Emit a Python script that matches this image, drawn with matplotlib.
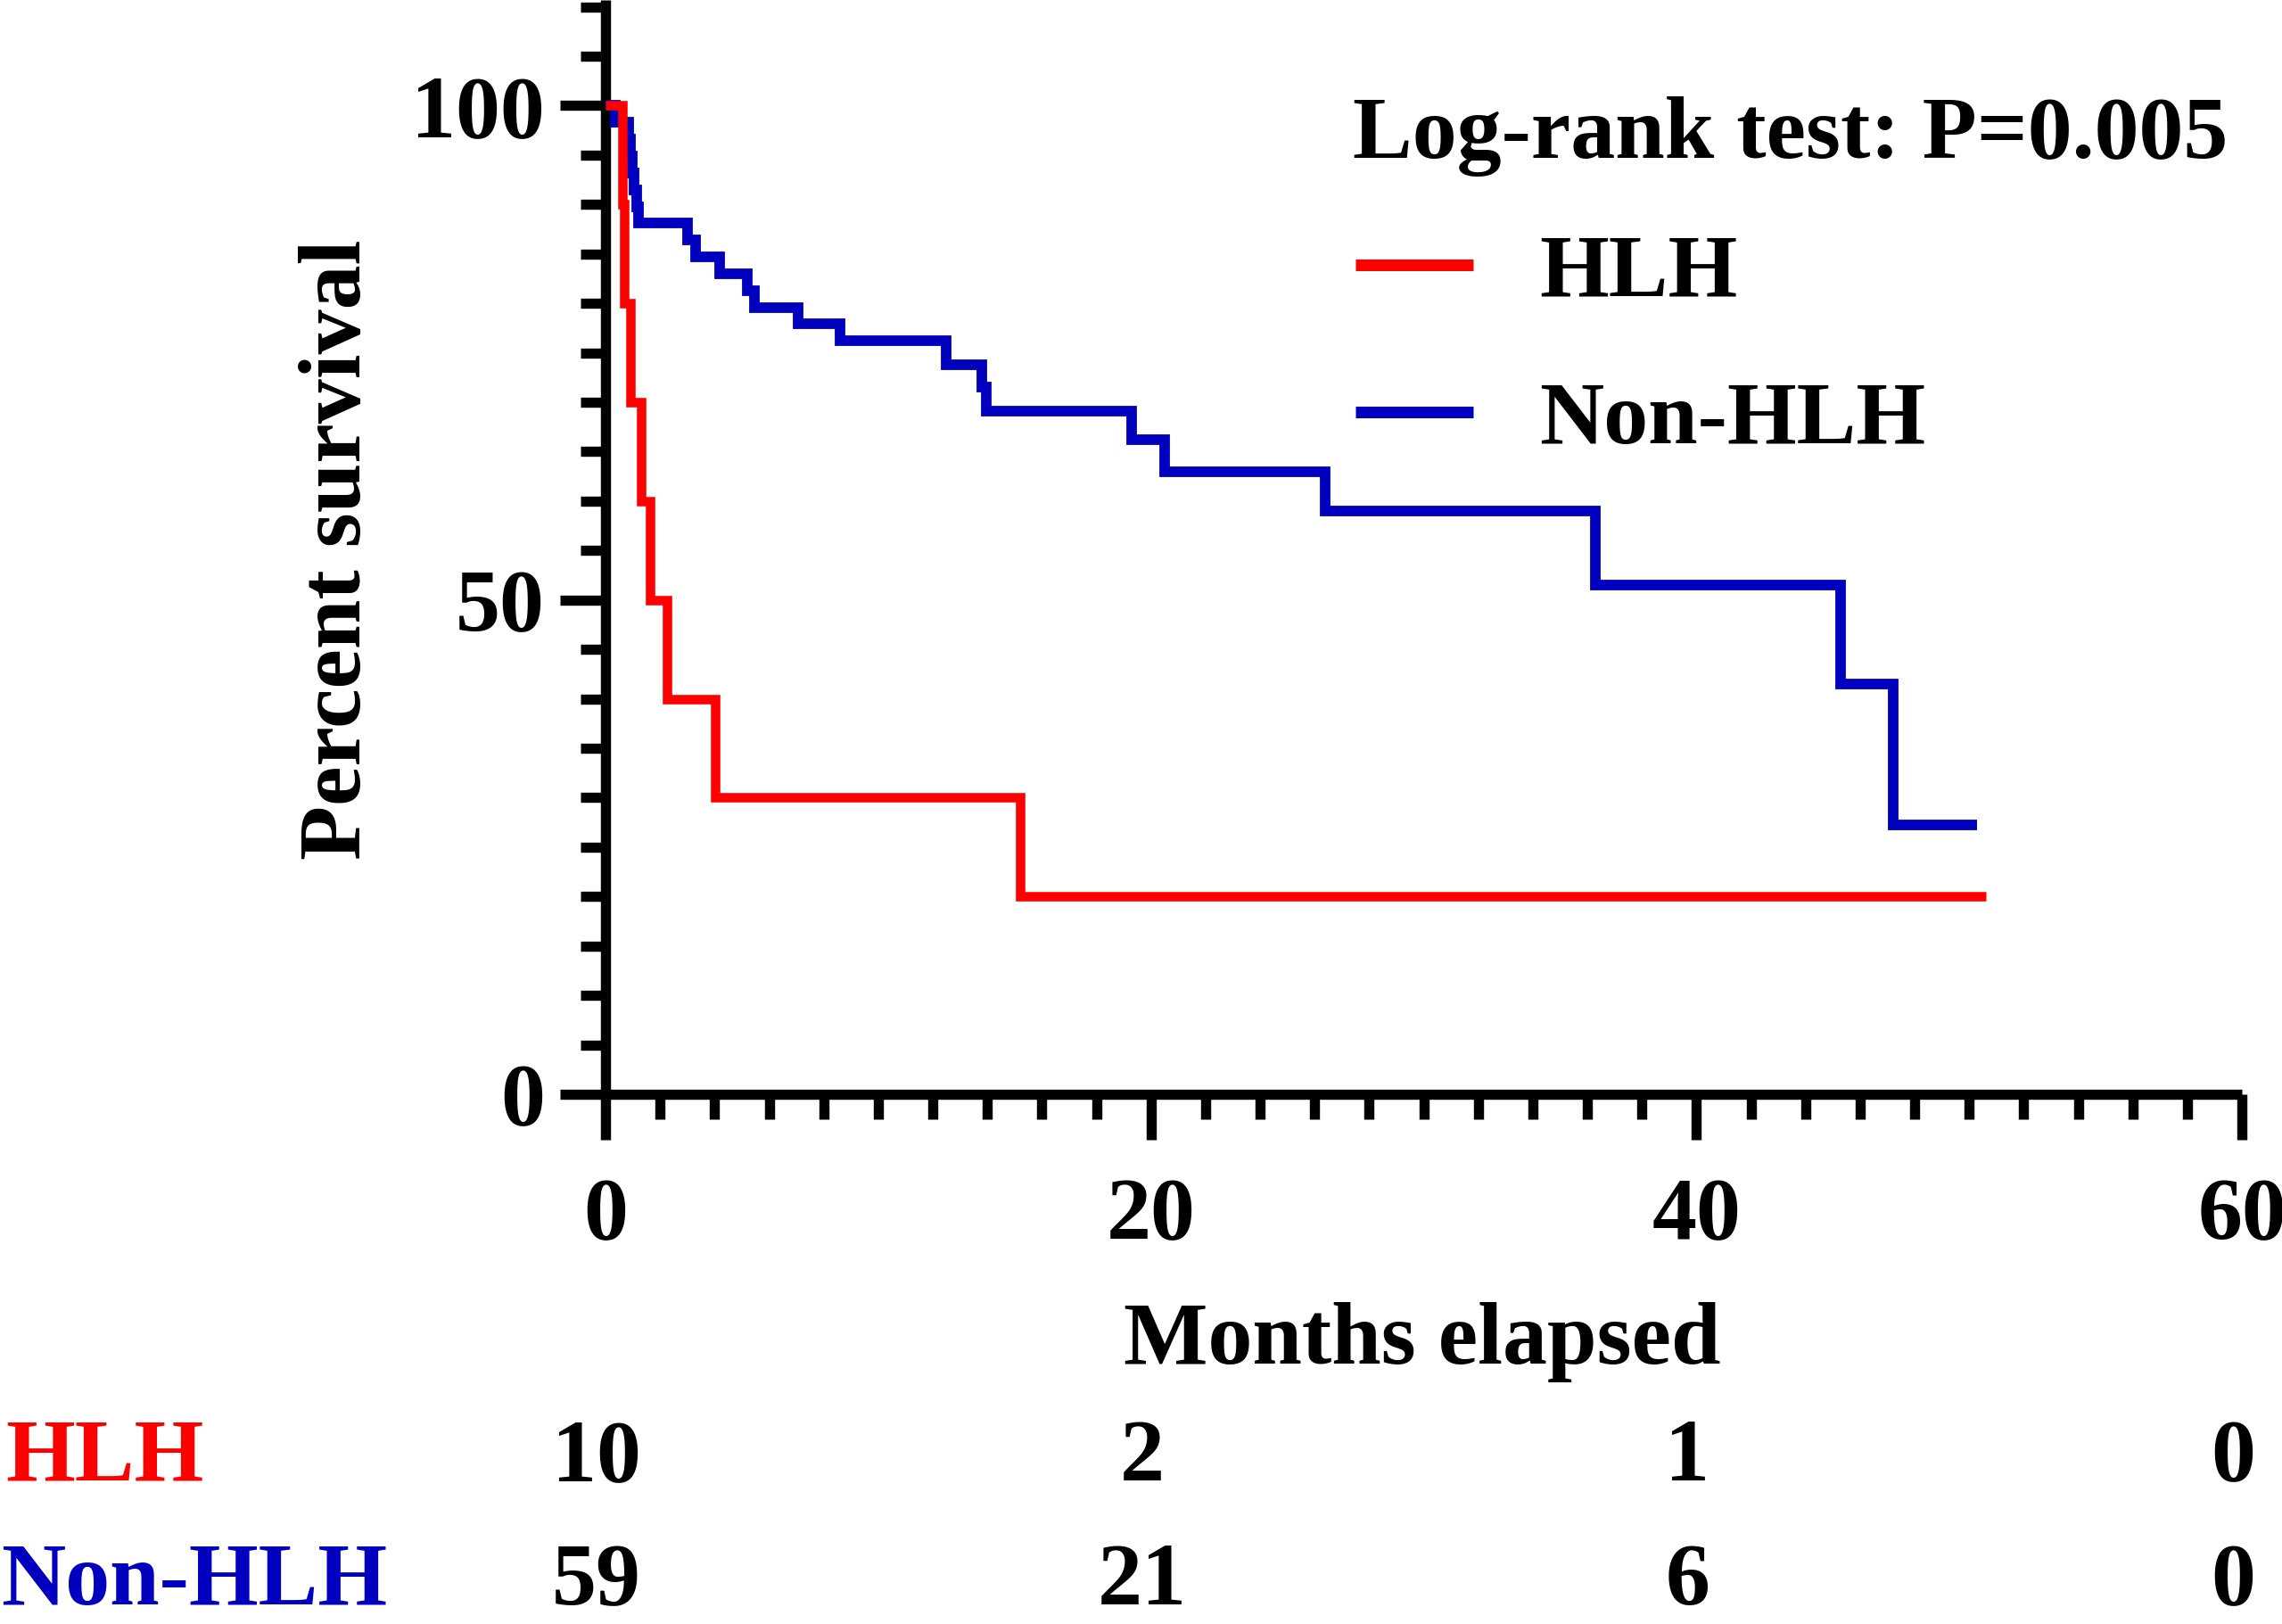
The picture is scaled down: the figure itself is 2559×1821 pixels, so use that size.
import matplotlib
matplotlib.use("Agg")
import matplotlib.pyplot as plt
import matplotlib.transforms as mtransforms
from matplotlib.ticker import MultipleLocator, FixedLocator

# ---------------- data ----------------
hlh_time = [0, 0.62, 0.70, 0.90, 1.30, 1.64, 2.27, 4.02, 15.2, 50.6]
hlh_surv = [100, 90, 80, 70, 60, 50, 40, 30, 20, 20]

non_time = [0, 0.35, 0.85, 0.92, 0.98, 1.05, 1.15, 1.22, 3.0, 3.3, 4.2, 5.2, 5.45,
            7.05, 8.6, 12.5, 13.8, 13.95, 19.3, 20.5, 26.4, 36.3, 45.3, 47.2, 50.3]
non_surv = [100, 98.3, 96.6, 94.9, 93.2, 91.5, 89.8, 88.1, 86.4, 84.7, 83.0, 81.3, 79.6,
            77.9, 76.2, 73.8, 71.5, 69.1, 66.2, 63.0, 59.0, 51.5, 41.5, 27.2, 27.2]

risk_times = [0, 20, 40, 60]
risk_hlh = [10, 2, 1, 0]
risk_non = [59, 21, 6, 0]

x_major = [0, 20, 40, 60]
y_major = [0, 50, 100]

RED = "#FF0000"
BLUE = "#0000BE"

plt.rcParams['font.family'] = ['Liberation Serif', 'DejaVu Serif']
plt.rcParams['font.weight'] = 'bold'
FS = 72

W, H = 2559, 1821
fig = plt.figure(figsize=(W / 100, H / 100), dpi=100)
x0, x1 = 679, 2514
y0 = 1227
ax = fig.add_axes([x0 / W, (H - y0) / H, (x1 - x0) / W, y0 / H])

ax.step(non_time, non_surv, where='post', color=BLUE, lw=8.5,
        solid_joinstyle='miter', solid_capstyle='butt', label='Non-HLH', zorder=3)
ax.step(hlh_time, hlh_surv, where='post', color=RED, lw=7.6,
        solid_joinstyle='miter', solid_capstyle='butt', label='HLH', zorder=4)

ax.set_xlim(0, 60)
ax.set_ylim(0, y0 / 11.085)

for s in ['top', 'right']:
    ax.spines[s].set_visible(False)
for s in ['left', 'bottom']:
    ax.spines[s].set_linewidth(8.2)
    ax.spines[s].set_capstyle('butt')

ax.xaxis.set_major_locator(FixedLocator(x_major))
ax.xaxis.set_minor_locator(MultipleLocator(2))
ax.yaxis.set_major_locator(FixedLocator(y_major))
ax.yaxis.set_minor_locator(MultipleLocator(5))

ax.tick_params(axis='both', which='major', length=37, width=8.2, labelsize=FS)
ax.tick_params(axis='both', which='minor', length=20, width=8.2)
ax.tick_params(axis='x', which='major', pad=30)
ax.tick_params(axis='y', which='major', pad=12)
for lab in ax.get_xticklabels() + ax.get_yticklabels():
    lab.set_fontweight('bold')

# axis labels
fig.text(1595 / W, 1 - 1529 / H, "Months elapsed", ha='center', va='baseline',
         fontsize=FS, fontweight='bold')
fig.text(380 / W, 1 - 616 / H, "Percent survival", ha='center', va='center',
         rotation=90, fontsize=FS, fontweight='bold')

# title
fig.text(1517 / W, 1 - 177 / H, "Log-rank test: P=0.005", ha='left', va='baseline',
         fontsize=FS, fontweight='bold')

# legend
handles, labels = ax.get_legend_handles_labels()
order = [labels.index('HLH'), labels.index('Non-HLH')]
leg = ax.legend([handles[i] for i in order], [labels[i] for i in order],
                loc='upper left', bbox_to_anchor=(1520 / W, 1 - 262 / H),
                bbox_transform=fig.transFigure, frameon=False,
                prop={'family': 'Liberation Serif', 'weight': 'bold', 'size': FS},
                handlelength=1.32, handletextpad=0.74, labelspacing=0.74,
                borderpad=0, borderaxespad=0)
for lh in leg.legend_handles:
    lh.set_linewidth(9.4)

# number at risk table
trans = mtransforms.blended_transform_factory(ax.transData, fig.transFigure)
trans = mtransforms.offset_copy(trans, fig=fig, x=-10, y=0, units='dots')
row1_y = 1 - 1660 / H
row2_y = 1 - 1799 / H
for t, n in zip(risk_times, risk_hlh):
    fig.text(t, row1_y, str(n), transform=trans, ha='center', va='baseline',
             fontsize=FS, fontweight='bold', color='black')
for t, n in zip(risk_times, risk_non):
    fig.text(t, row2_y, str(n), transform=trans, ha='center', va='baseline',
             fontsize=FS, fontweight='bold', color='black')
fig.text(6 / W, row1_y, "HLH", ha='left', va='baseline', fontsize=FS,
         fontweight='bold', color=RED)
fig.text(1 / W, row2_y, "Non-HLH", ha='left', va='baseline', fontsize=FS,
         fontweight='bold', color=BLUE)

fig.savefig("out.png", dpi=100)
